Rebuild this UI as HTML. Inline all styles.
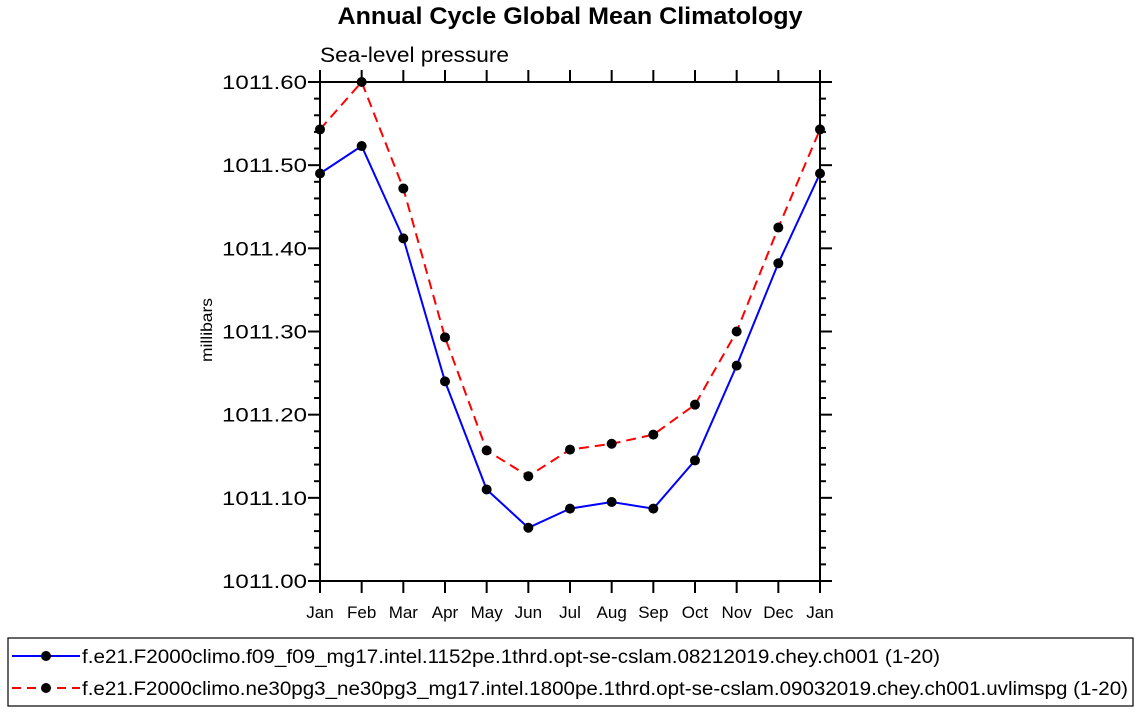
<!DOCTYPE html>
<html><head><meta charset="utf-8"><style>
body{margin:0;background:#fff;}
svg{display:block;font-family:"Liberation Sans",Arial,sans-serif;}
</style></head><body>
<svg id="chart" width="1138" height="712" viewBox="0 0 1138 712">
<text x="570" y="24" text-anchor="middle" font-size="24" font-weight="bold" textLength="465" lengthAdjust="spacingAndGlyphs">Annual Cycle Global Mean Climatology</text>
<text x="320" y="62" font-size="21" textLength="189" lengthAdjust="spacingAndGlyphs">Sea-level pressure</text>
<text transform="translate(212,330) rotate(-90)" text-anchor="middle" font-size="16" textLength="64" lengthAdjust="spacingAndGlyphs">millibars</text>
<g id="axes"></g>
<g id="series"></g>
<rect x="8" y="638" width="1125" height="68" fill="none" stroke="#000" stroke-width="1.2"/>
<g>
<line x1="12" y1="656" x2="80" y2="656" stroke="#0000ff" stroke-width="2"/>
<circle cx="46" cy="656" r="5" fill="#000"/>
<text x="82" y="663" font-size="19" textLength="858" lengthAdjust="spacingAndGlyphs">f.e21.F2000climo.f09_f09_mg17.intel.1152pe.1thrd.opt-se-cslam.08212019.chey.ch001 (1-20)</text>
</g>
<g>
<line x1="12" y1="688" x2="80" y2="688" stroke="#ff0000" stroke-width="2" stroke-dasharray="9,6"/>
<circle cx="46" cy="688" r="5" fill="#000"/>
<text x="82" y="695" font-size="19" textLength="1046" lengthAdjust="spacingAndGlyphs">f.e21.F2000climo.ne30pg3_ne30pg3_mg17.intel.1800pe.1thrd.opt-se-cslam.09032019.chey.ch001.uvlimspg (1-20)</text>
</g>
</svg>
<script>
const months=["Jan","Feb","Mar","Apr","May","Jun","Jul","Aug","Sep","Oct","Nov","Dec","Jan"];
const blueVals=[1011.490,1011.523,1011.412,1011.240,1011.110,1011.064,1011.087,1011.095,1011.087,1011.145,1011.259,1011.382,1011.490];
const redVals=[1011.543,1011.600,1011.472,1011.293,1011.157,1011.126,1011.158,1011.165,1011.176,1011.212,1011.300,1011.425,1011.543];
const yTicks=[1011.00,1011.10,1011.20,1011.30,1011.40,1011.50,1011.60];
const X0=320,X1=820,Y0=581,Y1=82,ymin=1011.0,ymax=1011.6;
const xs=i=>X0+(X1-X0)*i/(months.length-1);
const ys=v=>Y0-(v-ymin)/(ymax-ymin)*(Y0-Y1);
const NS="http://www.w3.org/2000/svg";
function mk(tag,attrs,parent){const e=document.createElementNS(NS,tag);for(const k in attrs)e.setAttribute(k,attrs[k]);parent.appendChild(e);return e;}
const ax=document.getElementById('axes');
const frame=mk('rect',{x:X0,y:Y1,width:X1-X0,height:Y0-Y1,fill:'none',stroke:'#000','stroke-width':2},ax);


for(let i=0;i<months.length;i++){
  const x=xs(i);
  mk('line',{x1:x,y1:Y0,x2:x,y2:Y0+12,stroke:'#000','stroke-width':2},ax);
  mk('line',{x1:x,y1:Y1,x2:x,y2:Y1-12,stroke:'#000','stroke-width':2},ax);
  const t=mk('text',{x:x,y:Y0+37,'text-anchor':'middle','font-size':17},ax);
  t.textContent=months[i];
  
  
}
for(let v=0;v<=30;v++){
  const val=ymin+v*0.02;const y=ys(val);const major=v%5===0;const L=major?12:6;
  mk('line',{x1:X0,y1:y,x2:X0-L,y2:y,stroke:'#000','stroke-width':2},ax);
  mk('line',{x1:X1,y1:y,x2:X1+L,y2:y,stroke:'#000','stroke-width':2},ax);
}
yTicks.forEach(v=>{
  const t=mk('text',{x:X0-13,y:ys(v)+7,'text-anchor':'end','font-size':19,textLength:85,lengthAdjust:'spacingAndGlyphs'},ax);
  t.textContent=v.toFixed(2);
  
  
});
const sg=document.getElementById('series');
function drawSeries(vals,color,dash,name){
  const g=mk('g',{},sg);
  
  
  const pts=vals.map((v,i)=>xs(i)+','+ys(v)).join(' ');
  const a={points:pts,fill:'none',stroke:color,'stroke-width':2};
  if(dash)a['stroke-dasharray']=dash;
  mk('polyline',a,g);
  vals.forEach((v,i)=>{
    const c=mk('circle',{cx:xs(i),cy:ys(v),r:5,fill:'#000'},g);
    
    
  });
}
drawSeries(blueVals,'#0000ff',null,'series-f09');
drawSeries(redVals,'#ff0000','10,6','series-ne30pg3');
</script>
</body></html>
